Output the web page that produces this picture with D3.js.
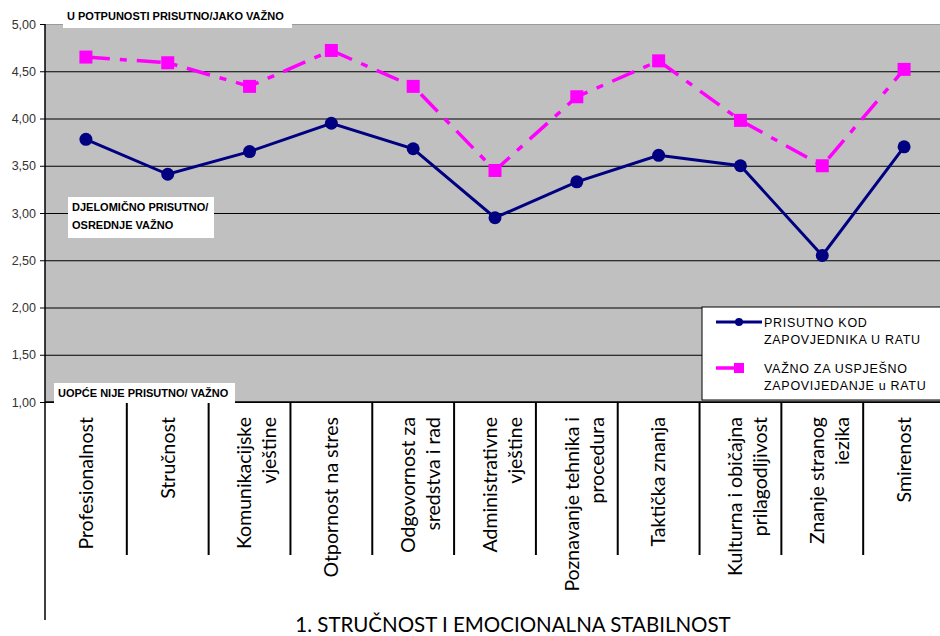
<!DOCTYPE html>
<html>
<head>
<meta charset="utf-8">
<script src="https://cdn.jsdelivr.net/npm/d3@7"></script>
<style>
  body { margin: 0; background: #fff; }
  svg { display: block; }
</style>
</head>
<body>
<svg id="chart" width="940" height="636"></svg>
<script>
// categories, each split into the lines it is printed on
var categories = [
  ['Profesionalnost'],
  ['Stručnost'],
  ['Komunikacijske', 'vještine'],
  ['Otpornost na stres'],
  ['Odgovornost za', 'sredstva i rad'],
  ['Administrativne', 'vještine'],
  ['Poznavanje tehnika i', 'procedura'],
  ['Taktička znanja'],
  ['Kulturna i običajna', 'prilagodljivost'],
  ['Znanje stranog', 'iezika'],
  ['Smirenost']
];
var prisutno = [3.78, 3.41, 3.65, 3.95, 3.68, 2.95, 3.33, 3.61, 3.50, 2.55, 3.70];
var vazno = [4.65, 4.59, 4.34, 4.72, 4.34, 3.45, 4.23, 4.61, 3.98, 3.50, 4.52];
var yTicks = [1, 1.5, 2, 2.5, 3, 3.5, 4, 4.5, 5];
var seriesNames = [['PRISUTNO KOD', 'ZAPOVJEDNIKA U RATU'], ['VAŽNO ZA USPJEŠNO', 'ZAPOVIJEDANJE u RATU']];
var title = '1. STRUČNOST I EMOCIONALNA STABILNOST';

var svg = d3.select('#chart');
var plotL = 45, plotR = 945, plotT = 24, plotB = 402;

var keys = categories.map(function(d, i) { return i; });
var x = d3.scaleBand().domain(keys).range([plotL, plotR]);
var y = d3.scaleLinear().domain([1, 5]).range([plotB, plotT]);
var cx = function(i) { return x(i) + x.bandwidth() / 2; };

// plot area
svg.append('rect')
  .attr('x', plotL).attr('y', plotT)
  .attr('width', plotR - plotL).attr('height', plotB - plotT)
  .attr('fill', '#c0c0c0');

// gridlines
svg.append('g')
  .attr('transform', 'translate(' + plotL + ',0)')
  .call(d3.axisLeft(y).tickValues(yTicks).tickSize(-(plotR - plotL)).tickFormat(''))
  .call(function(g) {
    g.select('.domain').remove();
    g.selectAll('line').attr('stroke', '#000').attr('stroke-width', 1);
    g.selectAll('.tick').filter(function(d) { return d === 5; }).select('line').attr('stroke', '#9a9a9a');
  });

// y axis
svg.append('g')
  .attr('transform', 'translate(' + plotL + ',0)')
  .call(d3.axisLeft(y).tickValues(yTicks).tickSize(5).tickPadding(4)
    .tickFormat(function(d) { return d3.format('.2f')(d).replace('.', ','); }))
  .call(function(g) {
    g.select('.domain').remove();
    g.selectAll('line').attr('stroke', '#000');
    g.selectAll('text').attr('font-family', 'Liberation Sans, Arial, sans-serif')
      .attr('font-size', 12.5).attr('fill', '#333');
  });

// axis lines below the plot
svg.append('line').attr('x1', plotL).attr('x2', plotL).attr('y1', plotT).attr('y2', 620)
  .attr('stroke', '#000').attr('stroke-width', 1.5);
svg.append('line').attr('x1', plotL).attr('x2', plotR).attr('y1', plotB).attr('y2', plotB)
  .attr('stroke', '#000').attr('stroke-width', 1.5);

svg.append('g').selectAll('line').data(keys.slice(1)).enter()
  .append('line')
  .attr('x1', function(d) { return x(d); })
  .attr('x2', function(d) { return x(d); })
  .attr('y1', plotB).attr('y2', 555)
  .attr('stroke', '#000').attr('stroke-width', 2);

// category labels
var labels = svg.append('g').selectAll('g').data(categories).enter()
  .append('g');
labels.each(function(lines, i) {
  var offs = lines.length === 1 ? [0] : [-5, 20];
  lines.forEach(function(t, k) {
    d3.select(this).append('text')
      .attr('transform', 'translate(' + (cx(i) + offs[k]) + ',417) rotate(-90)')
      .attr('text-anchor', 'end')
      .attr('dy', '0.35em')
      .attr('font-family', 'Lato, sans-serif')
      .attr('font-size', 19.5)
      .attr('fill', '#000')
      .text(t);
  }, this);
});

// series
var line = d3.line().x(function(d, i) { return cx(i); }).y(function(d) { return y(d); });

svg.append('path').datum(vazno)
  .attr('d', line)
  .attr('fill', 'none')
  .attr('stroke', '#ff00ff')
  .attr('stroke-width', 3.5)
  .attr('stroke-dasharray', '24,10,7,10');

svg.append('path').datum(prisutno)
  .attr('d', line)
  .attr('fill', 'none')
  .attr('stroke', '#000080')
  .attr('stroke-width', 3);

svg.append('g').selectAll('rect').data(vazno).enter()
  .append('rect')
  .attr('x', function(d, i) { return cx(i) - 6.5; })
  .attr('y', function(d) { return y(d) - 6.5; })
  .attr('width', 13).attr('height', 13)
  .attr('fill', '#ff00ff');

svg.append('g').selectAll('circle').data(prisutno).enter()
  .append('circle')
  .attr('cx', function(d, i) { return cx(i); })
  .attr('cy', function(d) { return y(d); })
  .attr('r', 6.5)
  .attr('fill', '#000080');

// scale notes
function note(x0, y0, w, h, lines, size) {
  svg.append('rect').attr('x', x0).attr('y', y0).attr('width', w).attr('height', h).attr('fill', '#fff');
  lines.forEach(function(t, k) {
    svg.append('text')
      .attr('x', x0 + 4).attr('y', y0 + 14 + k * 18)
      .attr('font-family', 'Liberation Sans, Arial, sans-serif')
      .attr('font-weight', 'bold')
      .attr('font-size', size)
      .attr('fill', '#000')
      .text(t);
  });
}
note(63, 6, 229, 22, ['U POTPUNOSTI PRISUTNO/JAKO VAŽNO'], 11);
note(68, 197, 146, 41, ['DJELOMIČNO PRISUTNO/', 'OSREDNJE VAŽNO'], 11);
note(54, 383, 181, 20, ['UOPĆE NIJE PRISUTNO/ VAŽNO'], 11);

// legend
var legend = svg.append('g');
legend.append('rect').attr('x', 702).attr('y', 307).attr('width', 250).attr('height', 93)
  .attr('fill', '#fff').attr('stroke', '#000').attr('stroke-width', 1);
legend.append('line').attr('x1', 716).attr('x2', 762).attr('y1', 322).attr('y2', 322)
  .attr('stroke', '#000080').attr('stroke-width', 3);
legend.append('circle').attr('cx', 739).attr('cy', 322).attr('r', 4).attr('fill', '#000080');
legend.append('line').attr('x1', 716).attr('x2', 744).attr('y1', 368).attr('y2', 368)
  .attr('stroke', '#ff00ff').attr('stroke-width', 3.5);
legend.append('rect').attr('x', 734).attr('y', 363).attr('width', 10).attr('height', 10).attr('fill', '#ff00ff');
seriesNames.forEach(function(lines, s) {
  lines.forEach(function(t, k) {
    legend.append('text')
      .attr('x', 764).attr('y', 327 + s * 46 + k * 17)
      .attr('font-family', 'Liberation Sans, Arial, sans-serif')
      .attr('font-size', 12.5)
      .attr('letter-spacing', 0.7)
      .attr('fill', '#000')
      .text(t);
  });
});

// title
svg.append('text')
  .attr('x', 513).attr('y', 632)
  .attr('text-anchor', 'middle')
  .attr('font-family', 'Lato, sans-serif')
  .attr('font-size', 20.5)
  .attr('fill', '#000')
  .text(title);
</script>
</body>
</html>
